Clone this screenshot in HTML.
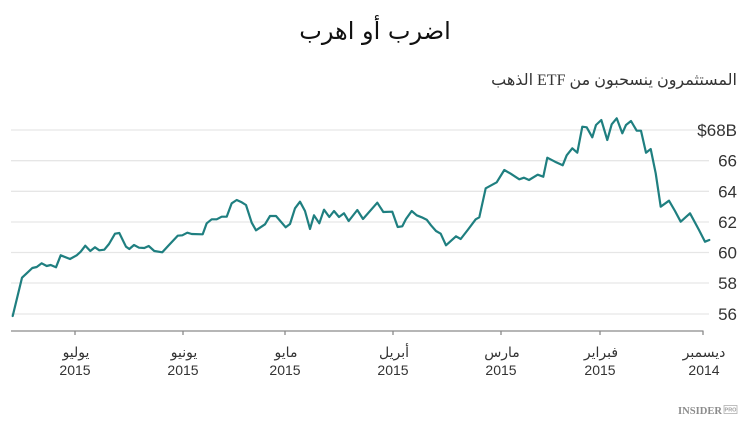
<!DOCTYPE html>
<html>
<head>
<meta charset="utf-8">
<style>
  html,body{margin:0;padding:0;background:#fff;}
  body{width:750px;height:426px;overflow:hidden;position:relative;}
  svg{position:absolute;left:0;top:0;}
  #sub{position:absolute;right:13px;top:70px;direction:rtl;white-space:nowrap;
       font-family:"Liberation Serif","DejaVu Sans",serif;font-size:16px;color:#333;line-height:22px;}
</style>
</head>
<body>
<svg width="750" height="426" viewBox="0 0 750 426" xmlns="http://www.w3.org/2000/svg">
  <!-- Title -->
  <text x="375" y="39" text-anchor="middle" font-family="DejaVu Sans, Liberation Sans, sans-serif" font-size="24" fill="#111">اضرب أو اهرب</text>

  <!-- Gridlines -->
  <g stroke="#e6e6e6" stroke-width="1.3">
    <line x1="11" y1="130" x2="709" y2="130"/>
    <line x1="11" y1="160.7" x2="709" y2="160.7"/>
    <line x1="11" y1="191.3" x2="709" y2="191.3"/>
    <line x1="11" y1="222" x2="709" y2="222"/>
    <line x1="11" y1="252.5" x2="709" y2="252.5"/>
    <line x1="11" y1="283" x2="709" y2="283"/>
    <line x1="11" y1="314" x2="709" y2="314"/>
  </g>

  <!-- Y labels -->
  <g font-family="Liberation Sans, sans-serif" font-size="17" fill="#333" text-anchor="end">
    <text x="737" y="136">$68B</text>
    <text x="737" y="166.7">66</text>
    <text x="737" y="197.3">64</text>
    <text x="737" y="228">62</text>
    <text x="737" y="258.5">60</text>
    <text x="737" y="289">58</text>
    <text x="737" y="320">56</text>
  </g>

  <!-- X axis -->
  <g stroke="#8a8a8a" stroke-width="1.3">
    <line x1="11" y1="331" x2="703.5" y2="331"/>
    <line x1="75" y1="331" x2="75" y2="335"/>
    <line x1="183" y1="331" x2="183" y2="335"/>
    <line x1="285" y1="331" x2="285" y2="335"/>
    <line x1="393" y1="331" x2="393" y2="335"/>
    <line x1="501" y1="331" x2="501" y2="335"/>
    <line x1="600" y1="331" x2="600" y2="335"/>
    <line x1="703" y1="331" x2="703" y2="335"/>
  </g>

  <!-- X labels -->
  <g font-family="DejaVu Sans, Liberation Sans, sans-serif" font-size="14" fill="#333" text-anchor="middle">
    <text x="76" y="357">يوليو</text>
    <text x="184" y="357">يونيو</text>
    <text x="286" y="357">مايو</text>
    <text x="394" y="357">أبريل</text>
    <text x="502" y="357">مارس</text>
    <text x="601" y="357">فبراير</text>
    <text x="704" y="357">ديسمبر</text>
  </g>
  <g font-family="Liberation Sans, sans-serif" font-size="14" fill="#333" text-anchor="middle">
    <text x="75" y="375">2015</text>
    <text x="183" y="375">2015</text>
    <text x="285" y="375">2015</text>
    <text x="393" y="375">2015</text>
    <text x="501" y="375">2015</text>
    <text x="600" y="375">2015</text>
    <text x="704" y="375">2014</text>
  </g>

  <!-- Series -->
  <polyline fill="none" stroke="#1f7f80" stroke-width="2.2" stroke-linejoin="round" stroke-linecap="round"
    points="12.7,316 22,277.7 26.7,273.3 32.3,268 36.7,267 41.7,263.3 46.7,266 50.7,265 56,267.3 60.7,255.3 70,259 76.7,255.3 80.7,251.7 85.3,245.7 90.3,251 95,247.3 99.3,250.3 104.3,249.7 109,244 115,233.7 119.3,233 126,246.7 129.3,249 134,245 139,247.7 144.3,248 148.7,246 154.3,251 162.3,252.3 168.3,245.7 177.7,235.7 182.3,235.3 187.3,232.7 191.7,234 202.7,234.3 206.7,223.3 211.7,219.3 216.7,219.3 221.7,216.7 226.7,216.7 231.7,203.3 236.7,200 241.7,202.3 246,205 251.7,222.7 256,230.3 265,224.3 270,216 276,216 285.7,227.3 290,224 295,208.3 300,201.7 305,211 310,229 314,215.3 319.3,223.3 324,209.7 329.3,217 334,211 339,217 344,213.3 348.7,221 357.3,210 363,219 377.3,202.7 383.3,212 392.3,211.7 397.7,227 402.3,226.3 406,219 411.7,211 416.7,215.3 421.7,217.3 426.7,219.7 431,225.3 436,231 440.7,233.7 446,245.3 456,236.3 460.7,239 467.7,230 475.7,219.3 479.3,217.3 485.7,188.3 496.7,182.3 504.3,170 510.7,173.7 519.3,179.3 524,177.7 529,180 537.7,174.7 543.3,176.7 547.3,157.7 555,161.7 562.7,165.3 566.7,155.3 572.3,148.3 577.3,152.7 582.3,126.7 586.7,127.3 592.3,137.3 596,125 601.3,120 607.3,140 611.7,124.3 616.7,118.3 622.3,133.3 626,125 631,121 636.7,130.7 641,130.7 646,152.7 650.7,149 655.7,173.3 660.7,206.7 669,200.7 675,211 680.7,221.7 690,213.3 699,230 705,241.7 709.3,240"/>

  <!-- Logo -->
  <text x="678" y="414" font-family="Liberation Serif, serif" font-weight="bold" font-size="10.5" fill="#8c8c8c" textLength="44" lengthAdjust="spacingAndGlyphs">INSIDER</text>
  <rect x="724" y="405.5" width="13" height="8" fill="none" stroke="#b0b0b0" stroke-width="0.8"/>
  <text x="730.5" y="411.5" text-anchor="middle" font-family="Liberation Sans, sans-serif" font-size="5.5" font-weight="bold" fill="#a0a0a0">PRO</text>
</svg>
<div id="sub">المستثمرون ينسحبون من ETF الذهب</div>
</body>
</html>
